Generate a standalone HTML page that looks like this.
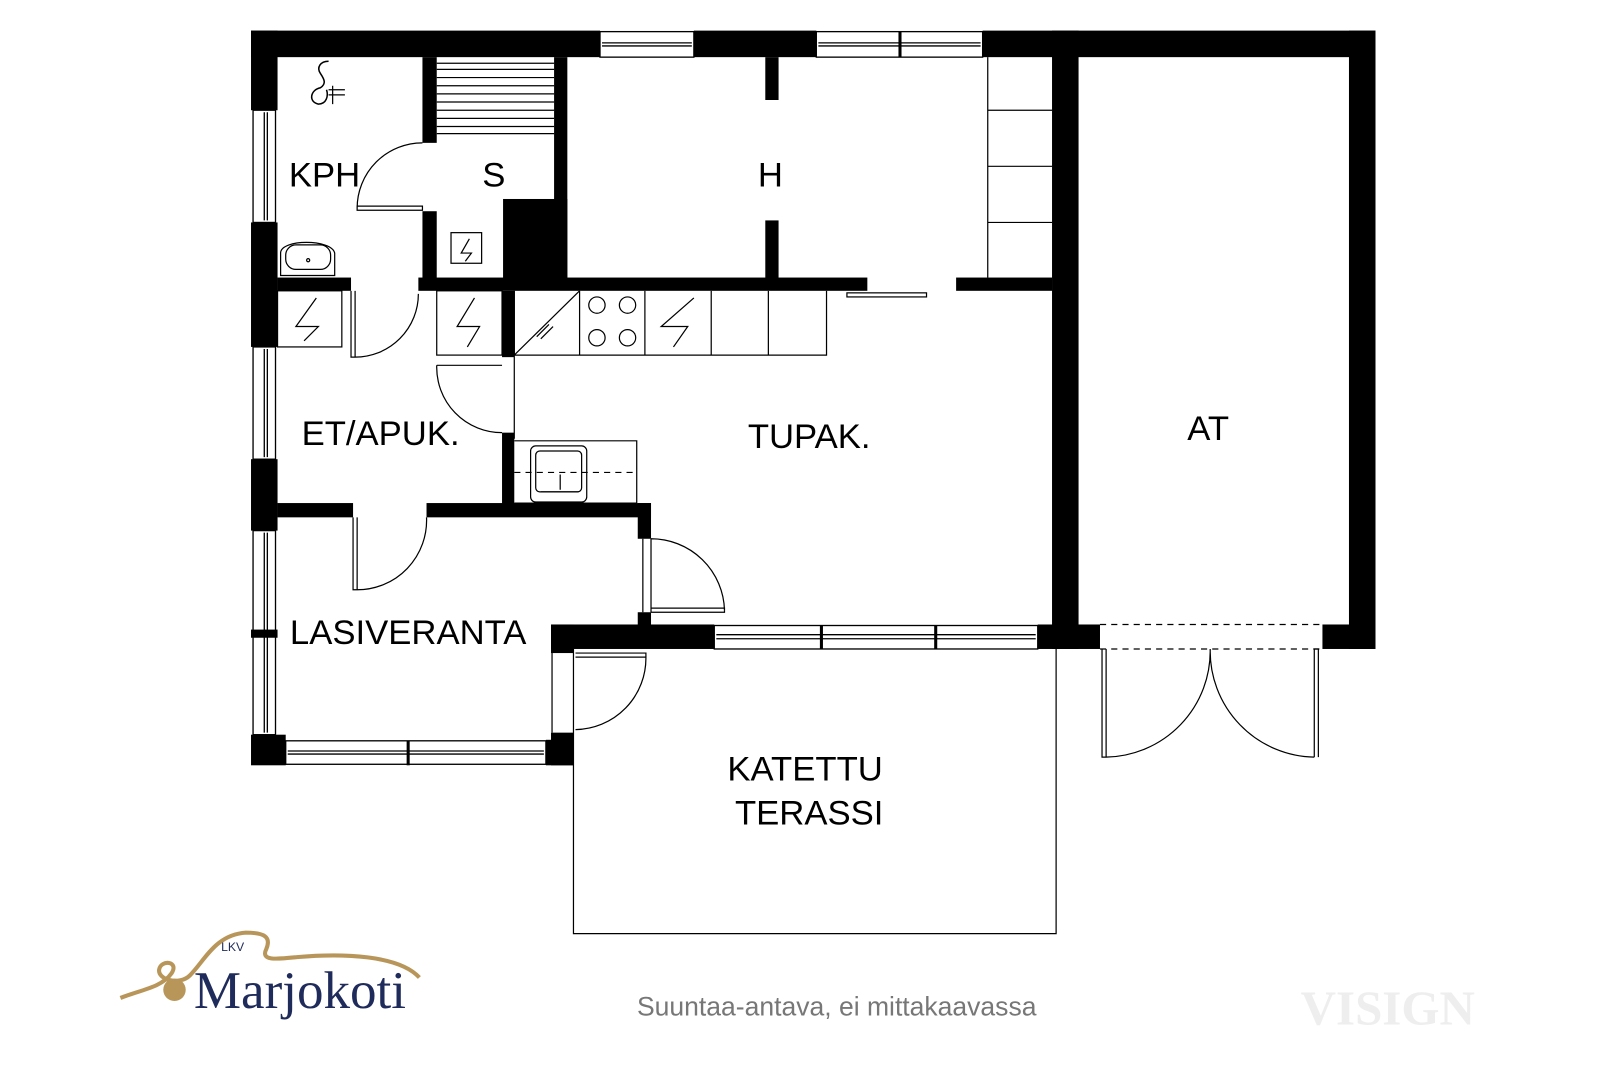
<!DOCTYPE html>
<html><head><meta charset="utf-8"><style>html,body{margin:0;padding:0;background:#fff}svg{display:block}</style></head><body>
<svg width="1600" height="1067" viewBox="0 0 1600 1067" xmlns="http://www.w3.org/2000/svg" font-family="Liberation Sans, sans-serif">
<rect width="1600" height="1067" fill="#fff"/>
<g transform="scale(1.0204)">
<g fill="#000">
<rect x="246" y="30" width="342" height="26"/>
<rect x="680" y="30" width="120" height="26"/>
<rect x="963" y="30" width="385" height="26"/>
<rect x="246" y="30" width="26" height="78"/>
<rect x="246" y="218" width="26" height="122"/>
<rect x="246" y="450" width="26" height="70"/>
<rect x="246" y="617" width="26" height="8"/>
<rect x="246" y="720" width="34" height="30"/>
<rect x="1322" y="30" width="26" height="606"/>
<rect x="1031" y="30" width="26" height="606"/>
<rect x="414" y="56" width="14" height="84"/>
<rect x="414" y="207" width="14" height="70"/>
<rect x="543" y="56" width="13" height="220"/>
<rect x="493" y="195" width="63" height="80"/>
<rect x="750" y="56" width="13" height="42"/>
<rect x="750" y="216" width="13" height="58"/>
<rect x="272" y="272" width="72" height="13"/>
<rect x="410" y="272" width="440" height="13"/>
<rect x="937" y="272" width="94" height="13"/>
<rect x="492" y="285" width="12" height="65"/>
<rect x="492" y="424" width="12" height="76"/>
<rect x="272" y="493" width="74" height="14"/>
<rect x="418" y="493" width="220" height="14"/>
<rect x="625" y="493" width="13" height="35"/>
<rect x="625" y="600" width="13" height="14"/>
<rect x="540" y="612" width="160" height="24"/>
<rect x="1017" y="612" width="61" height="24"/>
<rect x="1296" y="612" width="52" height="24"/>
<rect x="540" y="612" width="22" height="28"/>
<rect x="540" y="718" width="22" height="32"/>
<rect x="535" y="725" width="27" height="25"/>
</g>
<g fill="none" stroke="#000" stroke-width="1.3">
<rect x="588" y="31" width="92" height="25"/><line x1="590" y1="42" x2="678" y2="42"/><line x1="590" y1="45" x2="678" y2="45"/>
<rect x="800" y="31" width="163" height="25"/><line x1="802" y1="42" x2="961" y2="42"/><line x1="802" y1="45" x2="961" y2="45"/>
<rect x="248" y="108" width="22" height="110"/><line x1="259" y1="110" x2="259" y2="216"/><line x1="262" y1="110" x2="262" y2="216"/>
<rect x="248" y="340" width="22" height="110"/><line x1="259" y1="342" x2="259" y2="448"/><line x1="262" y1="342" x2="262" y2="448"/>
<rect x="248" y="520" width="22" height="200"/><line x1="259" y1="522" x2="259" y2="718"/><line x1="262" y1="522" x2="262" y2="718"/>
<rect x="280" y="726" width="255" height="23"/><line x1="282" y1="736" x2="533" y2="736"/><line x1="282" y1="739" x2="533" y2="739"/>
<rect x="700" y="613" width="317" height="23"/><line x1="702" y1="622" x2="1015" y2="622"/><line x1="702" y1="626" x2="1015" y2="626"/>
</g>
<g stroke="#000" stroke-width="3"><line x1="882" y1="31" x2="882" y2="56"/><line x1="400" y1="726" x2="400" y2="750"/><line x1="805" y1="613" x2="805" y2="636"/><line x1="917" y1="613" x2="917" y2="636"/></g>
<g fill="none" stroke="#000" stroke-width="1.2">
<path d="M428 62H543M428 68H543M428 76H543M428 84H543M428 92H543M428 100H543M428 108H543M428 116H543M428 124H543M428 131H543"/>
<path d="M968 56V272M968 108H1031M968 163H1031M968 218H1031"/>
<path d="M350 202H414V206H350ZM350 204A64 64 0 0 1 414 140"/>
<path d="M322 60c-8 0-12 6-8 12c4 6 6 10 0 14c-10 2-12 14-2 16c8 0 10-8 8-14" stroke-width="1.5"/><path d="M326 84V102M322 88H338M322 93H338"/>
<path d="M275 270V248c0-14 50-14 53 0V270Z"/><rect x="280" y="240" width="44" height="24" rx="10"/><circle cx="302" cy="255" r="1.5"/>
<rect x="442" y="228" width="30" height="30"/><path d="M460 234L452 248H462L456 256"/>
<rect x="272" y="285" width="63" height="55"/><path d="M310 292L290 320H312L298 334"/>
<rect x="428" y="285" width="64" height="63"/><path d="M465 292L448 320H470L458 340"/>
<path d="M344 285V350H348V285M348 350A62 62 0 0 0 410 288"/>
<path d="M428 358H492M428 358A64 64 0 0 0 492 424"/>
<path d="M504 285V348H810V285M568 285V348M632 285V348M697 285V348M753 285V348M504 348L568 285M526 330L538 318M530 332L542 320"/>
<circle cx="585" cy="299" r="8"/><circle cx="615" cy="299" r="8"/><circle cx="585" cy="331" r="8"/><circle cx="615" cy="331" r="8"/>
<path d="M680 292L648 320H674L660 340"/>
<rect x="830" y="287" width="78" height="4"/>
<line x1="504" y1="285" x2="504" y2="430"/>
<path d="M504 432H624V493M504 493H624"/>
<rect x="520" y="437" width="55" height="55" rx="5"/><rect x="525" y="442" width="45" height="40" rx="4"/>
<path d="M504 463H624" stroke-dasharray="6 5"/><path d="M549 465V480M530 482H567"/>
<path d="M346 507V578H350V507M350 578A68 68 0 0 0 418 507"/>
<path d="M630 528V600M638 528V600M638 600H710V596H638M710 598A72 72 0 0 0 638 528"/>
<path d="M541 640V718M564 640H633V644H564M633 644A70 70 0 0 1 564 715"/>
<path d="M562 636V915H1035V636"/>
<path d="M1078 612H1296M1078 636H1296" stroke-dasharray="6 5"/>
<path d="M1080 636V742H1084V636M1084 742A104 104 0 0 0 1186 636A104 104 0 0 0 1288 742M1288 742V636H1292V742"/>
</g>
<g font-size="34" fill="#000" text-anchor="middle">
<text x="318" y="183">KPH</text><text x="484" y="183">S</text><text x="755" y="183">H</text>
<text x="373" y="436">ET/APUK.</text><text x="793" y="439">TUPAK.</text><text x="1184" y="431">AT</text>
<text x="400" y="631">LASIVERANTA</text><text x="789" y="765">KATETTU</text><text x="793" y="808">TERASSI</text>
</g>
<text x="820" y="995" font-size="26" fill="#777" text-anchor="middle">Suuntaa-antava, ei mittakaavassa</text>
<text x="1360" y="1004" font-size="48" fill="#eee" text-anchor="middle" font-family="Liberation Serif, serif" font-weight="bold">VISIGN</text>
<path d="M118 978c20-8 40-10 50-24c8-12-10-14-12-4c-2 10 20 16 30 6c15-15 25-40 55-42c18 0 25 4 20 16c-6 12 10 10 30 8c45-4 100-2 120 20" fill="none" stroke="#b8965a" stroke-width="4"/>
<circle cx="171" cy="970" r="11" fill="#b8965a"/>
<text x="228" y="932" font-size="12" fill="#1f2b5a" text-anchor="middle">LKV</text>
<text x="190" y="988" font-size="52" fill="#1f2b5a" font-family="Liberation Serif, serif">Marjokoti</text>
</g>
</svg>
</body></html>
